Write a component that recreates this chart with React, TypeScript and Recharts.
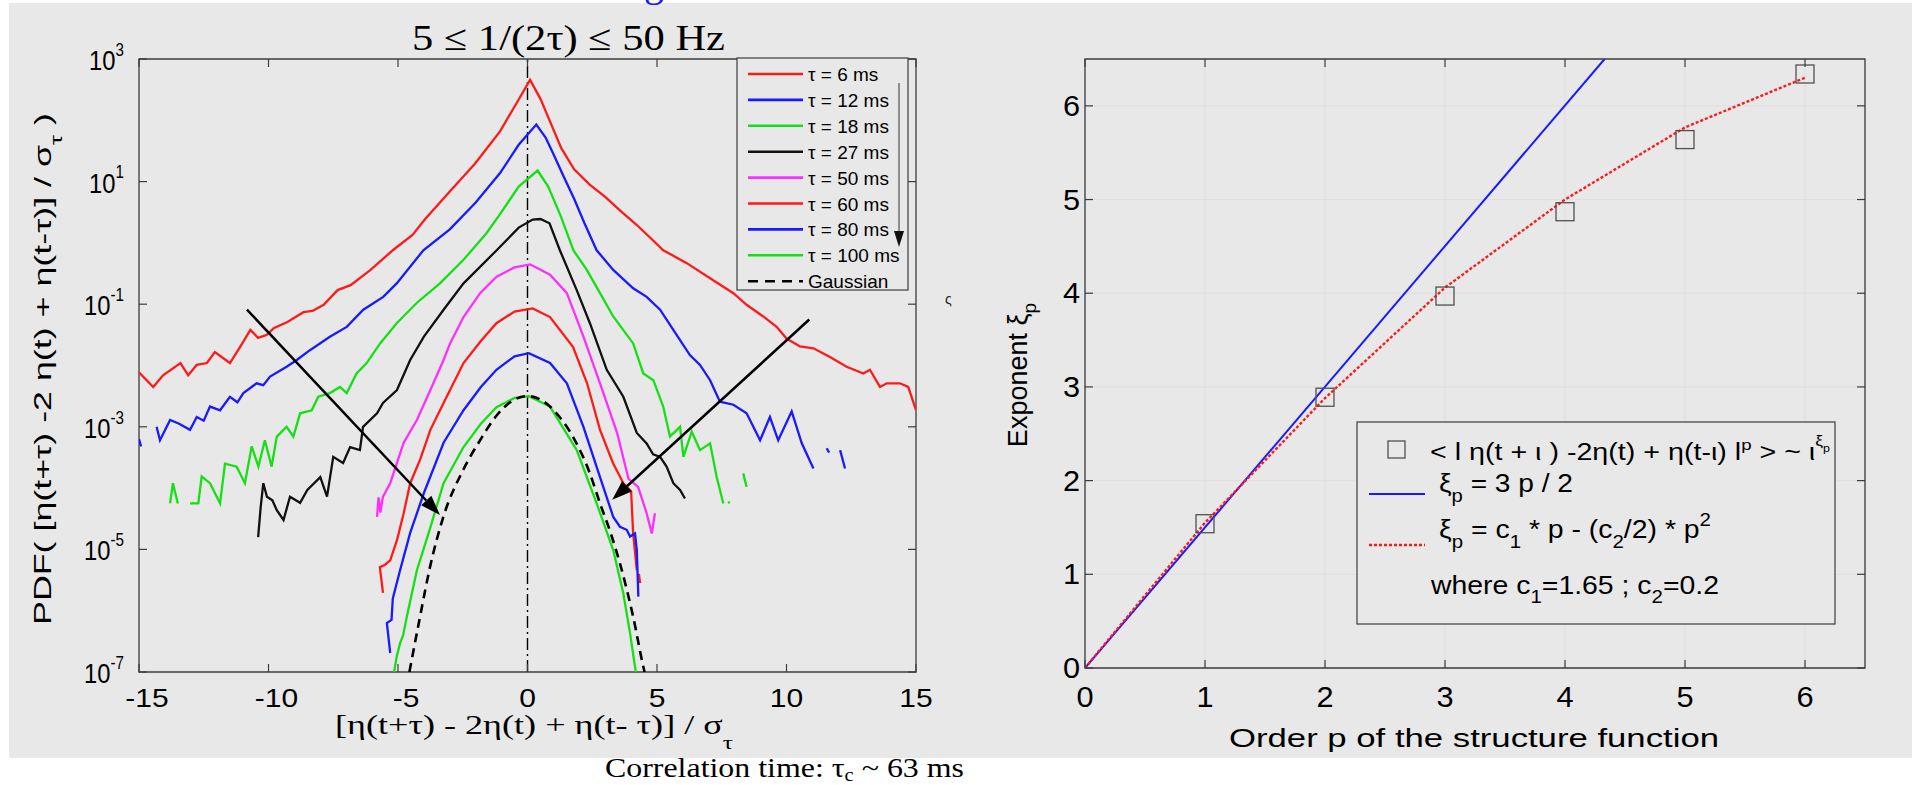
import React from 'react';
import {
  LineChart,
  ComposedChart,
  Line,
  Scatter,
  XAxis,
  YAxis,
  ReferenceLine,
  ReferenceArea,
  CartesianGrid,
} from 'recharts';

const SANS = "'Liberation Sans', Arial, Helvetica, sans-serif";
const SERIF = "'Liberation Serif', 'Times New Roman', Times, serif";
const FRAME = '#3c3c3c';
const BG = '#e8e8e8';

/* ---------------- left panel data (x, log10 PDF) ---------------- */
const pdfXTicks = [-15, -10, -5, 0, 5, 10, 15];
const pdfYTickExps = [-7, -5, -3, -1, 1, 3];

const tau6X = [-15.0, -14.45, -14.07, -13.4, -13.1, -12.77, -12.38, -12.07, -11.49, -11.1, -10.7, -10.4, -10.06, -9.8, -9.27, -8.65, -8.3, -7.87, -7.33, -6.83, -6.06, -5.2, -4.44, -3.95, -3.0, -2.03, -1.06, -0.34, 0.1, 0.5, 0.9, 1.3, 1.8, 2.4, 3.0, 3.6, 4.2, 4.7, 5.24, 6.15, 7.17, 7.95, 8.46, 9.1, 9.62, 10.0, 10.52, 11.04, 11.68, 12.32, 12.97, 13.22, 13.61, 13.87, 14.38, 14.7, 15.0];
const tau6E = [-2.11, -2.35, -2.16, -1.96, -2.16, -1.99, -1.96, -1.78, -1.96, -1.7, -1.42, -1.55, -1.5, -1.39, -1.29, -1.13, -1.11, -1.01, -0.77, -0.69, -0.44, -0.12, 0.13, 0.39, 0.84, 1.29, 1.82, 2.34, 2.66, 2.35, 1.95, 1.55, 1.2, 0.95, 0.75, 0.52, 0.3, 0.1, -0.12, -0.33, -0.61, -0.82, -1.01, -1.2, -1.37, -1.56, -1.69, -1.72, -1.86, -2.02, -2.13, -2.07, -2.35, -2.29, -2.29, -2.35, -2.73];

const tau12X = [-15.0, -14.92, -14.6, -14.32, -14.19, -13.8, -13.45, -13.03, -12.77, -12.5, -12.26, -11.87, -11.49, -11.2, -10.97, -10.46, -10.2, -9.94, -9.3, -8.91, -8.4, -7.63, -6.98, -6.34, -5.57, -5.05, -4.02, -3.0, -2.0, -1.06, -0.34, 0.34, 0.7, 1.0, 1.4, 1.8, 2.2, 2.67, 3.31, 4.08, 4.6, 5.12, 5.63, 6.27, 6.66, 7.05, 7.43, 7.95, 8.46, 8.98, 9.36, 9.68, 10.2, 10.59, 11.04, 11.3, 11.55, 11.65, 11.85, 12.07, 12.26];
const tau12E = [-3.2, -3.32, null, -3.0, -3.22, -2.89, -2.95, -3.05, -2.84, -2.9, -2.67, -2.73, -2.51, -2.6, -2.45, -2.29, -2.32, -2.18, -2.02, -1.91, -1.75, -1.53, -1.37, -1.09, -0.88, -0.66, -0.12, 0.22, 0.66, 1.14, 1.6, 1.93, 1.72, 1.45, 1.08, 0.72, 0.32, -0.12, -0.44, -0.74, -0.88, -1.09, -1.42, -1.83, -1.99, -2.24, -2.59, -2.64, -2.78, -3.22, -2.84, -3.22, -2.75, -3.27, -3.68, null, -3.35, -3.42, null, -3.38, -3.68];

const tau18X = [-13.8, -13.69, -13.5, -13.3, -13.03, -12.71, -12.58, -12.26, -11.87, -11.68, -11.23, -10.91, -10.65, -10.39, -10.14, -9.88, -9.68, -9.3, -9.04, -8.78, -8.33, -8.08, -7.63, -7.24, -6.98, -6.6, -6.21, -5.69, -5.05, -4.28, -3.38, -2.48, -1.6, -1.06, -0.34, 0.39, 0.8, 1.3, 1.77, 2.29, 2.8, 3.31, 4.08, 4.47, 4.86, 5.24, 5.5, 5.89, 6.02, 6.34, 6.66, 7.05, 7.3, 7.56, 7.65, 7.75, 7.8, 8.1, 8.33, 8.46];
const tau18E = [-4.25, -3.92, -4.25, null, -4.25, -4.25, -3.81, -3.92, -4.25, -3.6, -3.65, -3.92, -3.32, -3.65, -3.22, -3.65, -3.16, -3.0, -3.16, -2.78, -2.73, -2.51, -2.45, -2.35, -2.45, -2.13, -1.96, -1.64, -1.31, -0.98, -0.66, -0.28, 0.15, 0.47, 0.92, 1.18, 0.92, 0.42, -0.12, -0.44, -0.82, -1.2, -1.64, -2.13, -2.24, -2.67, -3.16, -3.0, -3.49, -3.08, -3.38, -3.27, -3.81, -4.25, null, -4.22, -4.25, null, -3.76, -3.98];

const tau27X = [-10.4, -10.3, -10.2, -10.06, -9.85, -9.68, -9.42, -9.17, -8.78, -8.5, -8.0, -7.74, -7.5, -7.12, -6.85, -6.47, -6.35, -5.81, -5.58, -5.04, -4.53, -4.0, -3.24, -2.47, -1.19, -0.34, 0.2, 0.5, 0.85, 1.25, 1.9, 2.41, 3.06, 3.7, 4.22, 4.6, 4.85, 5.12, 5.37, 5.63, 5.89, 6.08];
const tau27E = [-4.8, -4.3, -3.92, -4.14, -4.2, -4.36, -4.52, -4.14, -4.24, -4.03, -3.82, -4.14, -3.49, -3.59, -3.33, -3.38, -3.0, -2.78, -2.61, -2.4, -1.91, -1.53, -1.09, -0.66, -0.12, 0.25, 0.38, 0.39, 0.32, -0.12, -0.77, -1.31, -2.07, -2.51, -3.1, -3.27, -3.45, -3.49, -3.65, -3.92, -4.03, -4.17];

const tau50X = [-5.81, -5.75, -5.68, -5.58, -5.3, -5.04, -4.78, -4.27, -3.75, -3.24, -2.99, -2.47, -1.83, -1.19, -0.5, 0.1, 0.87, 1.52, 2.16, 2.8, 3.46, 3.9, 4.27, 4.6, 4.8, 4.92];
const tau50E = [-4.47, -4.15, -4.4, -4.14, -3.92, -3.59, -3.26, -2.89, -2.4, -1.91, -1.64, -1.21, -0.82, -0.55, -0.4, -0.35, -0.52, -0.82, -1.53, -2.29, -3.1, -3.85, -3.98, -4.41, -4.74, -4.41];

const tau60X = [-5.58, -5.7, -5.5, -5.3, -5.04, -4.78, -4.53, -4.15, -3.75, -3.24, -2.47, -1.8, -1.2, -0.5, 0.2, 0.87, 1.76, 2.3, 2.8, 3.3, 3.7, 4.0, 4.08, 4.22, 4.26, 4.3, 4.35];
const tau60E = [-5.71, -5.29, -5.25, -5.18, -4.85, -4.41, -3.92, -3.54, -3.05, -2.61, -1.96, -1.6, -1.31, -1.12, -1.07, -1.21, -1.7, -2.29, -3.05, -3.59, -3.92, -4.05, -4.74, -5.34, null, -5.4, -5.55];

const tau80X = [-5.3, -5.43, -5.25, -5.2, -4.92, -4.53, -4.0, -3.24, -2.47, -1.8, -1.2, -0.5, 0.05, 0.87, 1.52, 2.16, 2.8, 3.31, 3.57, 3.83, 3.96, 4.15, 4.22, 4.28];
const tau80E = [-6.69, -6.2, -6.15, -5.8, -5.34, -4.73, -4.08, -3.26, -2.73, -2.35, -2.07, -1.85, -1.8, -1.96, -2.29, -3.0, -3.82, -4.47, -4.63, -4.68, -4.79, -4.74, -5.01, -5.77];

const tau100X = [-5.15, -5.05, -4.92, -4.8, -4.66, -4.27, -3.75, -3.24, -2.47, -1.8, -1.2, -0.5, 0.05, 0.87, 1.9, 2.67, 3.31, 3.7, 3.96, 4.15, 4.18];
const tau100E = [-7.0, -6.75, -6.53, -6.4, -6.1, -5.34, -4.64, -3.92, -3.33, -2.95, -2.68, -2.53, -2.5, -2.67, -3.38, -4.25, -5.01, -5.72, -6.37, -6.91, -7.0];

const gaussX = [-4.56, -4.15, -3.76, -3.25, -2.48, -1.83, -1.2, -0.6, 0, 0.6, 1.2, 1.83, 2.4, 2.8, 3.2, 3.57, 4.08, 4.47, 4.52];
const gaussE = [-7.0, -6.1, -5.28, -4.47, -3.7, -3.22, -2.82, -2.58, -2.5, -2.58, -2.82, -3.22, -3.75, -4.25, -4.72, -5.23, -6.1, -6.91, -7.0];

// arrows: [x, log10 y] start -> end
const arrowLeftFrom = [-10.83, -1.09];
const arrowLeftTo = [-3.38, -4.44];
const arrowRightFrom = [10.88, -1.25];
const arrowRightTo = [3.27, -4.19];

const legendLabels = ['τ = 6 ms', 'τ = 12 ms', 'τ = 18 ms', 'τ = 27 ms', 'τ = 50 ms', 'τ = 60 ms', 'τ = 80 ms', 'τ = 100 ms', 'Gaussian'];

/* ---------------- right panel data ---------------- */
const orderTicks = [0, 1, 2, 3, 4, 5, 6];
const exponentTicks = [0, 1, 2, 3, 4, 5, 6];
const orders = [1, 2, 3, 4, 5, 6];
const xiMeasured = [1.54, 2.89, 3.97, 4.87, 5.64, 6.34];
const fitP = [0, 1, 2, 3, 4, 5, 6];
const fitXi = [0, 1.55, 2.88, 4.06, 5.0, 5.77, 6.3];
const k41P = [0, 4.33];
const k41Xi = [0, 6.5];

/* ---------------- colours ---------------- */
const RED = '#ff1a1a';
const BLUE = '#1a1aff';
const GREEN = '#14e014';
const BLACK = '#111111';
const MAGENTA = '#ff2eff';

const pdfSeries = [
  { key: 't6', color: RED, xs: tau6X, es: tau6E },
  { key: 't12', color: BLUE, xs: tau12X, es: tau12E },
  { key: 't18', color: GREEN, xs: tau18X, es: tau18E },
  { key: 't27', color: BLACK, xs: tau27X, es: tau27E },
  { key: 't50', color: MAGENTA, xs: tau50X, es: tau50E },
  { key: 't60', color: RED, xs: tau60X, es: tau60E },
  { key: 't80', color: BLUE, xs: tau80X, es: tau80E },
  { key: 't100', color: GREEN, xs: tau100X, es: tau100E },
];

const toPts = (xs: number[], es: (number | null)[]) =>
  xs.map((x, i) => ({ x, y: es[i] === null ? null : Math.pow(10, es[i] as number) }));

/* ---------------- geometry ---------------- */
const LW = 960;
const LH = 785;
// axis height/width of 1px is added to the margin
const LM = { top: 59, left: 138, right: 44, bottom: 112 };
const L_TOP = 59;
const L_BOT = 672;
const L_LEFT = 139;
const L_RIGHT = 916;

const ROFF = 960;
const RW = 972;
const RH = 785;
const RM = { top: 59, left: 124, right: 67, bottom: 116 };
const R_TOP = 59;
const R_BOT = 668;
const R_LEFT = 125;
const R_RIGHT = 905;

const TICK = 8;

function LeftXTick(props: any) {
  const { x, payload } = props;
  const v = payload.value as number;
  const dx = v < 0 ? 8 : 0;
  return (
    <g>
      <line x1={x} x2={x} y1={L_BOT} y2={L_BOT - TICK} stroke={FRAME} strokeWidth={1.2} />
      <line x1={x} x2={x} y1={L_TOP} y2={L_TOP + TICK} stroke={FRAME} strokeWidth={1.2} />
      <text
        transform={`translate(${x + dx},707) scale(1.2,1)`}
        textAnchor="middle"
        fontSize={25}
        fontFamily={SANS}
        fill="#000"
      >
        {String(v)}
      </text>
    </g>
  );
}

function LeftYTick(props: any) {
  const { y, payload } = props;
  const e = Math.round(Math.log10(payload.value as number));
  return (
    <g>
      <line x1={L_LEFT} x2={L_LEFT + TICK} y1={y} y2={y} stroke={FRAME} strokeWidth={1.2} />
      <line x1={L_RIGHT} x2={L_RIGHT - TICK} y1={y} y2={y} stroke={FRAME} strokeWidth={1.2} />
      <text
        transform={`translate(124,${y + 11}) scale(0.95,1.1)`}
        textAnchor="end"
        fontSize={25}
        fontFamily={SANS}
        fill="#000"
      >
        10
        <tspan dy={-13} fontSize={16}>
          {String(e)}
        </tspan>
      </text>
    </g>
  );
}

function RightXTick(props: any) {
  const { x, payload } = props;
  const v = payload.value as number;
  return (
    <g>
      <line x1={x} x2={x} y1={R_BOT} y2={R_BOT - TICK} stroke={FRAME} strokeWidth={1.2} />
      <line x1={x} x2={x} y1={R_TOP} y2={R_TOP + TICK} stroke={FRAME} strokeWidth={1.2} />
      <text
        transform={`translate(${x},707) scale(1.06,1)`}
        textAnchor="middle"
        fontSize={29}
        fontFamily={SANS}
        fill="#000"
      >
        {String(v)}
      </text>
    </g>
  );
}

function RightYTick(props: any) {
  const { y, payload } = props;
  const v = payload.value as number;
  return (
    <g>
      <line x1={R_LEFT} x2={R_LEFT + TICK} y1={y} y2={y} stroke={FRAME} strokeWidth={1.2} />
      <line x1={R_RIGHT} x2={R_RIGHT - TICK} y1={y} y2={y} stroke={FRAME} strokeWidth={1.2} />
      <text
        transform={`translate(120,${y + 10}) scale(1.06,1)`}
        textAnchor="end"
        fontSize={29}
        fontFamily={SANS}
        fill="#000"
      >
        {String(v)}
      </text>
    </g>
  );
}

const arrowShape = (p: any) => {
  const x1 = Number(p.x1);
  const y1 = Number(p.y1);
  const x2 = Number(p.x2);
  const y2 = Number(p.y2);
  const ang = Math.atan2(y2 - y1, x2 - x1);
  const len = 20;
  const w = 7;
  const bx = x2 - len * Math.cos(ang);
  const by = y2 - len * Math.sin(ang);
  const px = -Math.sin(ang) * w;
  const py = Math.cos(ang) * w;
  return (
    <g>
      <line x1={x1} y1={y1} x2={bx} y2={by} stroke="#000" strokeWidth={2.5} />
      <polygon points={`${x2},${y2} ${bx + px},${by + py} ${bx - px},${by - py}`} fill="#000" />
    </g>
  );
};

const squareShape = (p: any) => {
  const { cx, cy } = p;
  return <rect x={cx - 9} y={cy - 9} width={18} height={18} fill="none" stroke="#505050" strokeWidth={1.3} />;
};

function LeftChart() {
  return (
    <LineChart width={LW} height={LH} margin={LM}>
      <XAxis
        type="number"
        dataKey="x"
        domain={[-15, 15]}
        ticks={pdfXTicks}
        interval={0}
        height={1}
        tickSize={0}
        axisLine={false}
        tick={LeftXTick}
        allowDataOverflow
      />
      <YAxis
        type="number"
        scale="log"
        domain={[1e-7, 1e3]}
        ticks={pdfYTickExps.map((e) => Math.pow(10, e))}
        interval={0}
        width={1}
        tickSize={0}
        axisLine={false}
        tick={LeftYTick}
        allowDataOverflow
      />
      <ReferenceArea x1={-15} x2={15} y1={1e-7} y2={1e3} fill="none" stroke={FRAME} strokeWidth={1.3} ifOverflow="visible" />
      <ReferenceLine x={0} stroke="#000" strokeWidth={1.4} strokeDasharray="12 4 2 4" />
      {pdfSeries.map((s) => (
        <Line
          key={s.key}
          data={toPts(s.xs, s.es)}
          dataKey="y"
          type="linear"
          stroke={s.color}
          strokeWidth={2.3}
          dot={false}
          activeDot={false}
          isAnimationActive={false}
          connectNulls={false}
        />
      ))}
      <Line
        data={toPts(gaussX, gaussE)}
        dataKey="y"
        type="monotone"
        stroke="#000"
        strokeWidth={2.6}
        strokeDasharray="9 6"
        dot={false}
        activeDot={false}
        isAnimationActive={false}
      />
      <ReferenceLine
        segment={[
          { x: arrowLeftFrom[0], y: Math.pow(10, arrowLeftFrom[1]) },
          { x: arrowLeftTo[0], y: Math.pow(10, arrowLeftTo[1]) },
        ]}
        shape={arrowShape}
        ifOverflow="visible"
      />
      <ReferenceLine
        segment={[
          { x: arrowRightFrom[0], y: Math.pow(10, arrowRightFrom[1]) },
          { x: arrowRightTo[0], y: Math.pow(10, arrowRightTo[1]) },
        ]}
        shape={arrowShape}
        ifOverflow="visible"
      />
    </LineChart>
  );
}

function RightChart() {
  const measured = orders.map((p, i) => ({ p, xi: xiMeasured[i] }));
  const fit = fitP.map((p, i) => ({ p, xi: fitXi[i] }));
  const k41 = k41P.map((p, i) => ({ p, xi: k41Xi[i] }));
  return (
    <ComposedChart width={RW} height={RH} margin={RM}>
      <CartesianGrid stroke="#dfdfdf" strokeWidth={1} />
      <XAxis
        type="number"
        dataKey="p"
        domain={[0, 6.5]}
        ticks={orderTicks}
        interval={0}
        height={1}
        tickSize={0}
        axisLine={false}
        tick={RightXTick}
        allowDataOverflow
      />
      <YAxis
        type="number"
        dataKey="xi"
        domain={[0, 6.5]}
        ticks={exponentTicks}
        interval={0}
        width={1}
        tickSize={0}
        axisLine={false}
        tick={RightYTick}
        allowDataOverflow
      />
      <ReferenceArea x1={0} x2={6.5} y1={0} y2={6.5} fill="none" stroke={FRAME} strokeWidth={1.3} ifOverflow="visible" />
      <Line
        data={k41}
        dataKey="xi"
        type="linear"
        stroke={BLUE}
        strokeWidth={2}
        dot={false}
        activeDot={false}
        isAnimationActive={false}
      />
      <Line
        data={fit}
        dataKey="xi"
        type="linear"
        stroke={RED}
        strokeWidth={2.4}
        strokeDasharray="3 2"
        dot={false}
        activeDot={false}
        isAnimationActive={false}
      />
      <Scatter data={measured} dataKey="xi" shape={squareShape} isAnimationActive={false} />
    </ComposedChart>
  );
}

function Overlay() {
  const legendColors = [RED, BLUE, GREEN, BLACK, MAGENTA, RED, BLUE, GREEN, '#000'];
  return (
    <svg
      width={1932}
      height={785}
      style={{ position: 'absolute', left: 0, top: 0, pointerEvents: 'none' }}
    >
      {/* cut-off blue glyph at top */}
      <text x={644} y={-4} fontSize={40} fontFamily={SERIF} fill="#1a1aff">
        g
      </text>
      {/* title */}
      <text x={412} y={50} fontSize={36} fontFamily={SERIF} fill="#000" textLength={313} lengthAdjust="spacingAndGlyphs">
        5 ≤ 1/(2τ) ≤ 50 Hz
      </text>
      {/* left y label */}
      <text
        transform="translate(51,369) rotate(-90)"
        textAnchor="middle"
        fontSize={24}
        fontFamily={SANS}
        fill="#000"
        textLength={512}
        lengthAdjust="spacingAndGlyphs"
      >
        PDF( [η(t+τ) -2 η(t) + η(t-τ)] / σ
        <tspan dy={11} fontSize={17}>
          τ
        </tspan>
        <tspan dy={-11} fontSize={24}>
          {' )'}
        </tspan>
      </text>
      {/* left x label */}
      <text x={335} y={734} fontSize={27} fontFamily={SERIF} fill="#000" textLength={398} lengthAdjust="spacingAndGlyphs">
        [η(t+τ) - 2η(t) + η(t- τ)] / σ
        <tspan dy={15} fontSize={19}>
          τ
        </tspan>
      </text>
      {/* caption */}
      <text x={605} y={777} fontSize={28} fontFamily={SERIF} fill="#000" textLength={359} lengthAdjust="spacingAndGlyphs">
        Correlation time: τ
        <tspan dy={4} fontSize={18}>
          c
        </tspan>
        <tspan dy={-4} fontSize={28}>
          {' ~ 63 ms'}
        </tspan>
      </text>
      {/* stray glyph */}
      <text x={945} y={304} fontSize={14} fontFamily={SANS} fill="#222">
        ς
      </text>

      {/* left legend */}
      <rect x={737} y={58} width={171} height={232} fill={BG} stroke={FRAME} strokeWidth={1.2} />
      {legendLabels.map((lab, i) => {
        const cy = 74 + i * 25.9;
        return (
          <g key={lab}>
            <line
              x1={748}
              x2={803}
              y1={cy}
              y2={cy}
              stroke={legendColors[i]}
              strokeWidth={2.6}
              strokeDasharray={i === 8 ? '10 7' : undefined}
            />
            <text x={808} y={cy + 7} fontSize={19} fontFamily={SANS} fill="#000">
              {lab}
            </text>
          </g>
        );
      })}
      <line x1={899} x2={899} y1={83} y2={236} stroke="#333" strokeWidth={1} />
      <polygon points="899,247 894,231 904,231" fill="#111" />

      {/* right y label */}
      <text transform="translate(1027,375) rotate(-90)" textAnchor="middle" fontSize={27} fontFamily={SANS} fill="#000">
        Exponent ξ
        <tspan dy={9} fontSize={19}>
          p
        </tspan>
      </text>
      {/* right x label */}
      <text x={1474} y={747} textAnchor="middle" fontSize={25} fontFamily={SANS} fill="#000" textLength={490} lengthAdjust="spacingAndGlyphs">
        Order p of the structure function
      </text>

      {/* right legend */}
      <rect x={1357} y={422} width={478} height={202} fill={BG} stroke={FRAME} strokeWidth={1.2} />
      <rect x={1388} y={441} width={17} height={17} fill="none" stroke="#505050" strokeWidth={1.3} />
      <text x={1430} y={460} fontSize={23} fontFamily={SANS} fill="#000" textLength={400} lengthAdjust="spacingAndGlyphs">
        {'< l η(t + ι ) -2η(t) + η(t-ι) l'}
        <tspan dy={-10} fontSize={15}>
          p
        </tspan>
        <tspan dy={10} fontSize={23}>
          {' > ~ ι'}
        </tspan>
        <tspan dy={-14} fontSize={14}>
          ξ
        </tspan>
        <tspan dy={6} fontSize={10}>
          p
        </tspan>
      </text>
      <line x1={1369} x2={1425} y1={494} y2={494} stroke={BLUE} strokeWidth={2} />
      <text x={1439} y={492} fontSize={25} fontFamily={SANS} fill="#000" textLength={134} lengthAdjust="spacingAndGlyphs">
        ξ
        <tspan dy={10} fontSize={18}>
          p
        </tspan>
        <tspan dy={-10} fontSize={25}>
          {' = 3 p / 2'}
        </tspan>
      </text>
      <line x1={1369} x2={1425} y1={545} y2={545} stroke={RED} strokeWidth={2.4} strokeDasharray="3 2" />
      <text x={1439} y={538} fontSize={25} fontFamily={SANS} fill="#000" textLength={272} lengthAdjust="spacingAndGlyphs">
        ξ
        <tspan dy={10} fontSize={18}>
          p
        </tspan>
        <tspan dy={-10} fontSize={25}>
          {' = c'}
        </tspan>
        <tspan dy={10} fontSize={18}>
          1
        </tspan>
        <tspan dy={-10} fontSize={25}>
          {' * p - (c'}
        </tspan>
        <tspan dy={10} fontSize={18}>
          2
        </tspan>
        <tspan dy={-10} fontSize={25}>
          {'/2) * p'}
        </tspan>
        <tspan dy={-12} fontSize={18}>
          2
        </tspan>
      </text>
      <text x={1431} y={594} fontSize={25} fontFamily={SANS} fill="#000" textLength={288} lengthAdjust="spacingAndGlyphs">
        where c
        <tspan dy={9} fontSize={18}>
          1
        </tspan>
        <tspan dy={-9} fontSize={25}>
          {'=1.65 ; c'}
        </tspan>
        <tspan dy={9} fontSize={18}>
          2
        </tspan>
        <tspan dy={-9} fontSize={25}>
          =0.2
        </tspan>
      </text>
    </svg>
  );
}

export default function App() {
  return (
    <div
      style={{
        position: 'fixed',
        left: 0,
        top: 0,
        width: 1932,
        height: 785,
        background: '#ffffff',
        overflow: 'hidden',
      }}
    >
      <div style={{ position: 'absolute', left: 9, top: 3, width: 1903, height: 755, background: BG }} />
      <div style={{ position: 'absolute', left: 0, top: 0, width: LW, height: LH }}>
        <LeftChart />
      </div>
      <div style={{ position: 'absolute', left: ROFF, top: 0, width: RW, height: RH }}>
        <RightChart />
      </div>
      <Overlay />
    </div>
  );
}
